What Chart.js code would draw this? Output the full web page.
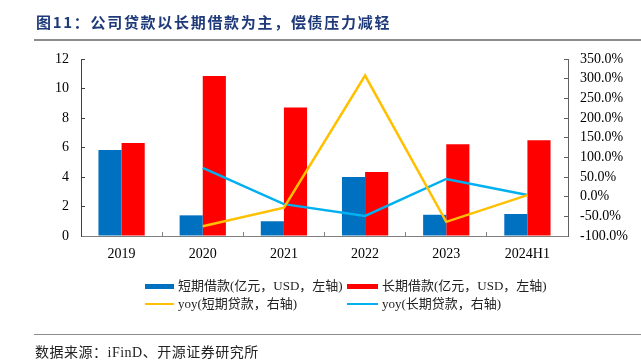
<!DOCTYPE html>
<html>
<head>
<meta charset="utf-8">
<script src="https://cdn.jsdelivr.net/npm/chart.js@4/dist/chart.umd.min.js"></script>
<style>
  html, body { margin:0; padding:0; background:#fff; }
  #wrap { position:relative; width:641px; height:360px; overflow:hidden; }
  canvas { position:absolute; left:0; top:0; }
  .title { position:absolute; left:36px; top:11px; font-family:"Noto Sans CJK SC", sans-serif; font-weight:bold; font-size:15px; color:#1F3A7A; white-space:nowrap; letter-spacing:1.7px; }
  .hline { position:absolute; left:34px; right:0; height:2px; background:#8c8c8c; }
  .foot { position:absolute; left:35px; top:341px; font-family:"Liberation Serif","Noto Sans CJK SC",serif; font-size:14px; color:#222; white-space:nowrap; letter-spacing:0.5px; }
  .leg { position:absolute; font-family:"Liberation Serif","Noto Sans CJK SC",serif; font-size:13px; color:#222; white-space:nowrap; line-height:16px; }
  .sw { position:absolute; }
</style>
</head>
<body>
<div id="wrap">
  <canvas id="c" width="641" height="360"></canvas>
  <div class="title">图11：公司贷款以长期借款为主，偿债压力减轻</div>
  <div class="hline" style="top:39px;"></div>
  <div class="hline" style="top:334px;height:1px;"></div>
  <div class="foot">数据来源：iFinD、开源证券研究所</div>

  <div class="sw" style="left:145px;top:284px;width:29px;height:5px;background:#0070C0;"></div>
  <div class="leg" style="left:178px;top:278px;">短期借款(亿元，USD，左轴)</div>
  <div class="sw" style="left:347px;top:284px;width:31px;height:5px;background:#FF0000;"></div>
  <div class="leg" style="left:382px;top:278px;">长期借款(亿元，USD，左轴)</div>
  <div class="sw" style="left:145px;top:303px;width:29px;height:2px;background:#FFC000;"></div>
  <div class="leg" style="left:178px;top:296px;">yoy(短期贷款，右轴)</div>
  <div class="sw" style="left:347px;top:303px;width:31px;height:2px;background:#00B0F0;"></div>
  <div class="leg" style="left:382px;top:296px;">yoy(长期贷款，右轴)</div>
</div>
<script>
const categories = ['2019', '2020', '2021', '2022', '2023', '2024H1'];
const shortLoans = [5.83, 1.40, 1.00, 4.00, 1.44, 1.49];
const longLoans = [6.30, 10.85, 8.72, 4.34, 6.22, 6.49];
const yoyShort = [null, -75, -28, 308, -64, 4];
const yoyLong = [null, 73, -19, -49, 45, 4];
const leftTicks = [0, 2, 4, 6, 8, 10, 12];
const rightTicks = [-100, -50, 0, 50, 100, 150, 200, 250, 300, 350];

const tickFont = { family: '"Liberation Serif", "Times New Roman", serif', size: 14 };

new Chart(document.getElementById('c'), {
  data: {
    labels: categories,
    datasets: [
      { type: 'bar', label: '短期借款(亿元，USD，左轴)', data: shortLoans, backgroundColor: '#0070C0', yAxisID: 'y', categoryPercentage: 0.57, barPercentage: 1.0, order: 2 },
      { type: 'bar', label: '长期借款(亿元，USD，左轴)', data: longLoans, backgroundColor: '#FF0000', yAxisID: 'y', categoryPercentage: 0.57, barPercentage: 1.0, order: 2 },
      { type: 'line', label: 'yoy(短期贷款，右轴)', data: yoyShort, borderColor: '#FFC000', borderWidth: 2.5, pointRadius: 0, yAxisID: 'y1', tension: 0, order: 1 },
      { type: 'line', label: 'yoy(长期贷款，右轴)', data: yoyLong, borderColor: '#00B0F0', borderWidth: 2.5, pointRadius: 0, yAxisID: 'y1', tension: 0, order: 1 }
    ]
  },
  options: {
    responsive: false,
    animation: false,
    devicePixelRatio: 1,
    layout: { padding: { top: 59, left: 0, right: 0, bottom: 0 } },
    plugins: { legend: { display: false }, tooltip: { enabled: false } },
    scales: {
      x: {
        offset: true,
        grid: { offset: true, drawOnChartArea: false, tickLength: -4, color: '#808080' },
        border: { color: '#808080', width: 1 },
        ticks: { font: tickFont, color: '#000', padding: 14, maxRotation: 0, autoSkip: false },
        afterFit: s => { s.height = 124; }
      },
      y: {
        position: 'left',
        min: 0, max: 12,
        afterBuildTicks: s => { s.ticks = leftTicks.map(v => ({ value: v })); },
        grid: { drawOnChartArea: false, tickLength: -4, color: '#404040' },
        border: { color: '#404040', width: 1 },
        ticks: { font: tickFont, color: '#000', padding: 16, autoSkip: false },
        afterFit: s => { s.width = 81; }
      },
      y1: {
        position: 'right',
        min: -100, max: 350,
        afterBuildTicks: s => { s.ticks = rightTicks.map(v => ({ value: v })); },
        grid: { drawOnChartArea: false, tickLength: -4, color: '#606060' },
        border: { color: '#606060', width: 1 },
        ticks: { font: tickFont, color: '#000', padding: 16, autoSkip: false, callback: v => v.toFixed(1) + '%' },
        afterFit: s => { s.width = 73; }
      }
    }
  }
});
</script>
</body>
</html>
